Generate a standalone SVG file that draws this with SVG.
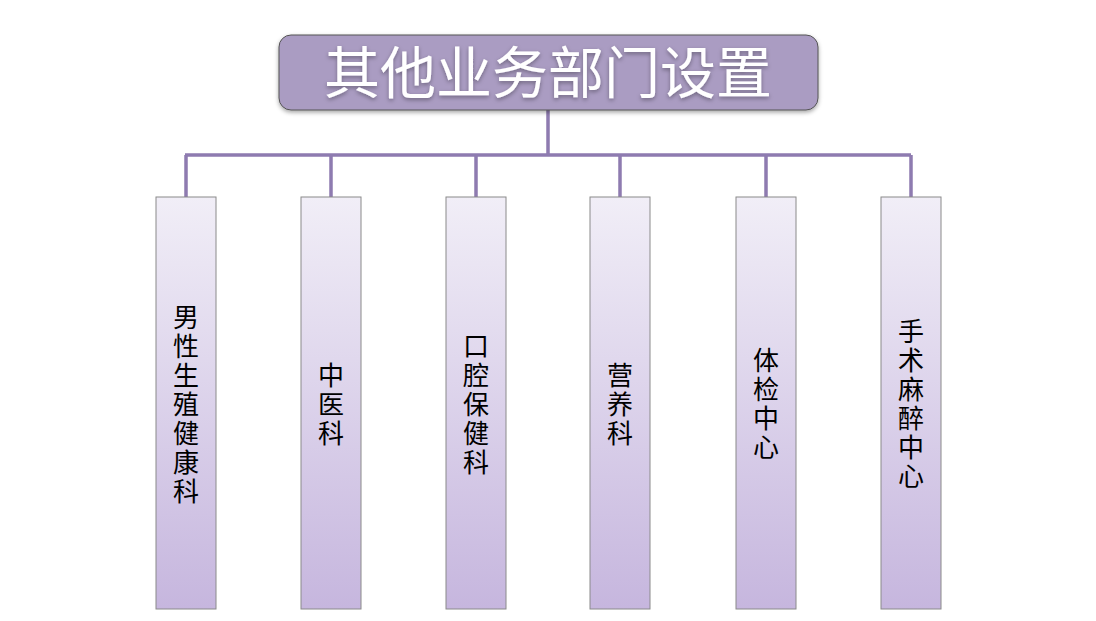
<svg xmlns="http://www.w3.org/2000/svg" width="1096" height="621" viewBox="0 0 1096 621">
<style>
.box{stroke:#8a8a8a;stroke-width:1;fill:url(#g)}
.t{font-family:"Noto Sans CJK SC",sans-serif;font-size:26px;fill:#000;text-anchor:middle}
.c{stroke:#8e7bb0;stroke-width:3.5;fill:none}
</style>
<defs>
<linearGradient id="g" x1="0" y1="0" x2="0" y2="1"><stop offset="0" stop-color="#f1eef7"/><stop offset="1" stop-color="#c6b6de"/></linearGradient>
<filter id="sh" x="-10%" y="-10%" width="120%" height="130%"><feDropShadow dx="0" dy="2" stdDeviation="2" flood-color="#000" flood-opacity="0.35"/></filter>
</defs>
<g id="connectors">
<path class="c" d="M548 110V155M185 155H911M186 155V197M331 155V197M476 155V197M620 155V197M766 155V197M911 155V197"/>
</g>
<g id="root">
<rect x="279" y="35" width="539" height="75" rx="12" fill="#aa9cc2" stroke="#555" stroke-width="1" filter="url(#sh)"/>
<text x="548" y="93" font-family="Noto Sans CJK SC,sans-serif" font-size="56" fill="#fff" text-anchor="middle" filter="url(#sh)">其他业务部门设置</text>
</g>
<g id="n1"><rect class="box" x="156" y="197" width="60" height="412"/><text class="t" x="186"><tspan x="186" y="327">男</tspan><tspan x="186" y="356">性</tspan><tspan x="186" y="385">生</tspan><tspan x="186" y="414">殖</tspan><tspan x="186" y="443">健</tspan><tspan x="186" y="472">康</tspan><tspan x="186" y="501">科</tspan></text></g>
<g id="n2"><rect class="box" x="301" y="197" width="60" height="412"/><text class="t"><tspan x="331" y="385">中</tspan><tspan x="331" y="414">医</tspan><tspan x="331" y="443">科</tspan></text></g>
<g id="n3"><rect class="box" x="446" y="197" width="60" height="412"/><text class="t"><tspan x="476" y="356">口</tspan><tspan x="476" y="385">腔</tspan><tspan x="476" y="414">保</tspan><tspan x="476" y="443">健</tspan><tspan x="476" y="472">科</tspan></text></g>
<g id="n4"><rect class="box" x="590" y="197" width="60" height="412"/><text class="t"><tspan x="620" y="385">营</tspan><tspan x="620" y="414">养</tspan><tspan x="620" y="443">科</tspan></text></g>
<g id="n5"><rect class="box" x="736" y="197" width="60" height="412"/><text class="t"><tspan x="766" y="370">体</tspan><tspan x="766" y="399">检</tspan><tspan x="766" y="428">中</tspan><tspan x="766" y="457">心</tspan></text></g>
<g id="n6"><rect class="box" x="881" y="197" width="60" height="412"/><text class="t"><tspan x="911" y="341">手</tspan><tspan x="911" y="370">术</tspan><tspan x="911" y="399">麻</tspan><tspan x="911" y="428">醉</tspan><tspan x="911" y="457">中</tspan><tspan x="911" y="486">心</tspan></text></g>
</svg>
